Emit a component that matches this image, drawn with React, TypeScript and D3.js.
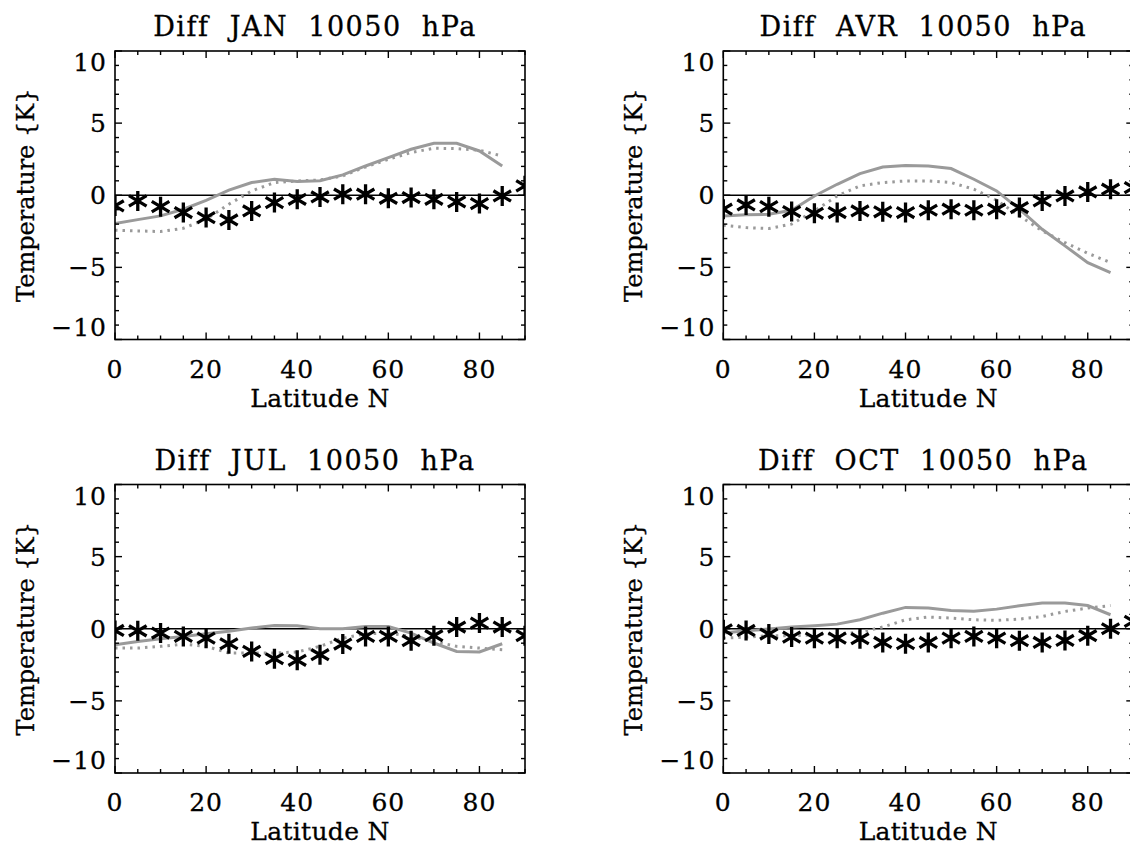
import React from "react";
import * as d3 from "d3";

const LAT_STARS = [0, 5, 10, 15, 20, 25, 30, 35, 40, 45, 50, 55, 60, 65, 70, 75, 80, 85, 90];
const LAT_LINES = [0, 5, 10, 15, 20, 25, 30, 35, 40, 45, 50, 55, 60, 65, 70, 75, 80, 85];

const JAN_STARS = [-0.74, -0.39, -0.79, -1.2, -1.55, -1.71, -1.09, -0.51, -0.28, -0.12, 0.07, 0.07, -0.21, -0.16, -0.28, -0.46, -0.58, -0.05, 0.65];
const JAN_SOLID = [-1.96, -1.69, -1.43, -0.97, -0.35, 0.35, 0.88, 1.11, 0.95, 1.0, 1.41, 2.03, 2.61, 3.19, 3.6, 3.6, 3.07, 2.03];
const JAN_DOTTED = [-2.42, -2.47, -2.52, -2.29, -1.66, -0.62, 0.3, 0.88, 0.99, 1.06, 1.34, 1.96, 2.49, 2.96, 3.26, 3.23, 3.12, 2.72];

const AVR_STARS = [-0.97, -0.67, -0.79, -1.13, -1.25, -1.2, -1.09, -1.15, -1.2, -1.04, -0.97, -1.04, -0.97, -0.85, -0.39, -0.05, 0.23, 0.42, 0.53];
const AVR_SOLID = [-1.43, -1.36, -1.32, -1.04, -0.05, 0.76, 1.5, 1.96, 2.06, 2.03, 1.85, 1.11, 0.3, -0.97, -2.36, -3.51, -4.67, -5.36];
const AVR_DOTTED = [-2.08, -2.24, -2.31, -2.0, -1.09, -0.05, 0.65, 0.88, 0.99, 0.99, 0.88, 0.42, -0.35, -1.43, -2.47, -3.28, -4.02, -4.67];

const JUL_STARS = [-0.12, -0.14, -0.3, -0.53, -0.65, -1.04, -1.57, -2.08, -2.19, -1.8, -1.06, -0.53, -0.53, -0.83, -0.48, 0.12, 0.39, 0.12, -0.48];
const JUL_SOLID = [-1.11, -0.88, -0.69, -0.53, -0.35, -0.18, 0.05, 0.23, 0.21, 0.0, 0.0, 0.16, 0.16, -0.3, -0.99, -1.57, -1.61, -1.04];
const JUL_DOTTED = [-1.34, -1.34, -1.22, -1.06, -1.22, -1.68, -1.68, -1.68, -1.61, -1.22, -0.65, -0.35, -0.3, -0.53, -0.88, -1.22, -1.34, -1.45];

const OCT_STARS = [-0.07, -0.12, -0.37, -0.58, -0.65, -0.65, -0.69, -0.95, -1.04, -0.95, -0.65, -0.53, -0.65, -0.83, -0.95, -0.81, -0.48, 0.0, 0.51];
const OCT_SOLID = [-0.3, -0.14, -0.02, 0.12, 0.21, 0.32, 0.62, 1.08, 1.48, 1.43, 1.27, 1.22, 1.36, 1.59, 1.78, 1.78, 1.61, 0.97];
const OCT_DOTTED = [-0.65, -0.58, -0.48, -0.48, -0.42, -0.35, -0.25, 0.12, 0.62, 0.81, 0.74, 0.62, 0.58, 0.67, 0.85, 1.2, 1.43, 1.61];

const MONTHS = ["JAN", "AVR", "JUL", "OCT"];
const X_TICK_LABELS = [0, 20, 40, 60, 80];
const Y_TICK_LABELS = [-10, -5, 0, 5, 10];

const PANELS = [
  { month: MONTHS[0], stars: JAN_STARS, solid: JAN_SOLID, dotted: JAN_DOTTED },
  { month: MONTHS[1], stars: AVR_STARS, solid: AVR_SOLID, dotted: AVR_DOTTED },
  { month: MONTHS[2], stars: JUL_STARS, solid: JUL_SOLID, dotted: JUL_DOTTED },
  { month: MONTHS[3], stars: OCT_STARS, solid: OCT_SOLID, dotted: OCT_DOTTED },
];

const LEFTS = [115, 723.3];
const TOPS = [51, 484.5];
const PW = 410;
const PH = 288.5;
const FONT = "'DejaVu Serif', serif";
const GRAY = "#9a9a9a";
const TEXT_STROKE = 0.3;

function Star({ cx, cy }: { cx: number; cy: number }) {
  const r = 10;
  const hx = 8.8;
  const hy = 5.2;
  const d = `M${cx},${cy - r}L${cx},${cy + r}M${cx - hx},${cy - hy}L${cx + hx},${cy + hy}M${cx - hx},${cy + hy}L${cx + hx},${cy - hy}`;
  return <path d={d} stroke="#000" strokeWidth={3.3} fill="none" />;
}

function T(props: any) {
  return <text fontFamily={FONT} fill="#000" stroke="#000" strokeWidth={TEXT_STROKE} {...props} />;
}

function Panel({ idx, p }: { idx: number; p: typeof PANELS[0] }) {
  const left = LEFTS[idx % 2];
  const top = TOPS[Math.floor(idx / 2)];
  const x = d3.scaleLinear().domain([0, 90]).range([left, left + PW]);
  const y = d3.scaleLinear().domain([-10, 10]).range([top + PH, top]);
  const line = d3
    .line<number>()
    .x((_, i) => x(LAT_LINES[i]))
    .y((v) => y(v));
  const clipId = `clip${idx}`;
  const xTicks = d3.range(0, 91, 5);
  const yTicks = d3.range(-10, 11, 1);
  const cx = left + PW / 2;
  return (
    <g>
      <defs>
        <clipPath id={clipId}>
          <rect x={left} y={top} width={PW} height={PH} />
        </clipPath>
      </defs>
      <g clipPath={`url(#${clipId})`}>
        <line x1={x(0)} x2={x(90)} y1={y(0)} y2={y(0)} stroke="#000" strokeWidth={1.6} />
        <path d={line(p.dotted) || ""} stroke={GRAY} strokeWidth={3} fill="none" strokeDasharray="2.5 5" />
        <path d={line(p.solid) || ""} stroke={GRAY} strokeWidth={3} fill="none" />
        {p.stars.map((v, i) => (
          <Star key={i} cx={x(LAT_STARS[i])} cy={y(v)} />
        ))}
      </g>
      <rect x={left} y={top} width={PW} height={PH} fill="none" stroke="#000" strokeWidth={1.6} />
      {xTicks.map((t) => {
        const len = t % 20 === 0 ? 7 : 4;
        return (
          <g key={"x" + t}>
            <line x1={x(t)} x2={x(t)} y1={top + PH} y2={top + PH - len} stroke="#000" strokeWidth={1.4} />
            <line x1={x(t)} x2={x(t)} y1={top} y2={top + len} stroke="#000" strokeWidth={1.4} />
          </g>
        );
      })}
      {yTicks.map((t) => {
        const len = t % 5 === 0 ? 7 : 4;
        return (
          <g key={"y" + t}>
            <line x1={left} x2={left + len} y1={y(t)} y2={y(t)} stroke="#000" strokeWidth={1.4} />
            <line x1={left + PW} x2={left + PW - len} y1={y(t)} y2={y(t)} stroke="#000" strokeWidth={1.4} />
          </g>
        );
      })}
      {X_TICK_LABELS.map((t) => (
        <T key={"xl" + t} x={x(t)} y={top + PH + 38} textAnchor="middle" fontSize={25} letterSpacing={1}>
          {t}
        </T>
      ))}
      {Y_TICK_LABELS.map((t) => {
        const yy = Math.max(top + 11, Math.min(top + PH - 13, y(t)));
        return (
          <T key={"yl" + t} x={left - 8} y={yy} dy="0.36em" textAnchor="end" fontSize={25} letterSpacing={1}>
            {t < 0 ? "\u2212" + Math.abs(t) : String(t)}
          </T>
        );
      })}
      <T x={cx - 5} y={top - 15} textAnchor="middle" fontSize={27} letterSpacing={1.5} style={{ whiteSpace: "pre" }}>
        {`Diff  ${p.month}  10050  hPa`}
      </T>
      <T x={cx} y={top + PH + 67} textAnchor="middle" fontSize={25} letterSpacing={0.3}>
        Latitude N
      </T>
      <T
        transform={`translate(${left - 90},${top + PH / 2}) rotate(-90)`}
        textAnchor="middle"
        dy="0.36em"
        fontSize={24}
      >
        {"Temperature {K}"}
      </T>
    </g>
  );
}

export default function App() {
  return (
    <div style={{ position: "absolute", left: 0, top: 0, width: 1130, height: 849, background: "#fff", overflow: "hidden" }}>
      <svg width={1130} height={849} style={{ display: "block" }}>
        <rect width={1130} height={849} fill="#fff" />
        {PANELS.map((p, i) => (
          <Panel key={i} idx={i} p={p} />
        ))}
      </svg>
    </div>
  );
}
